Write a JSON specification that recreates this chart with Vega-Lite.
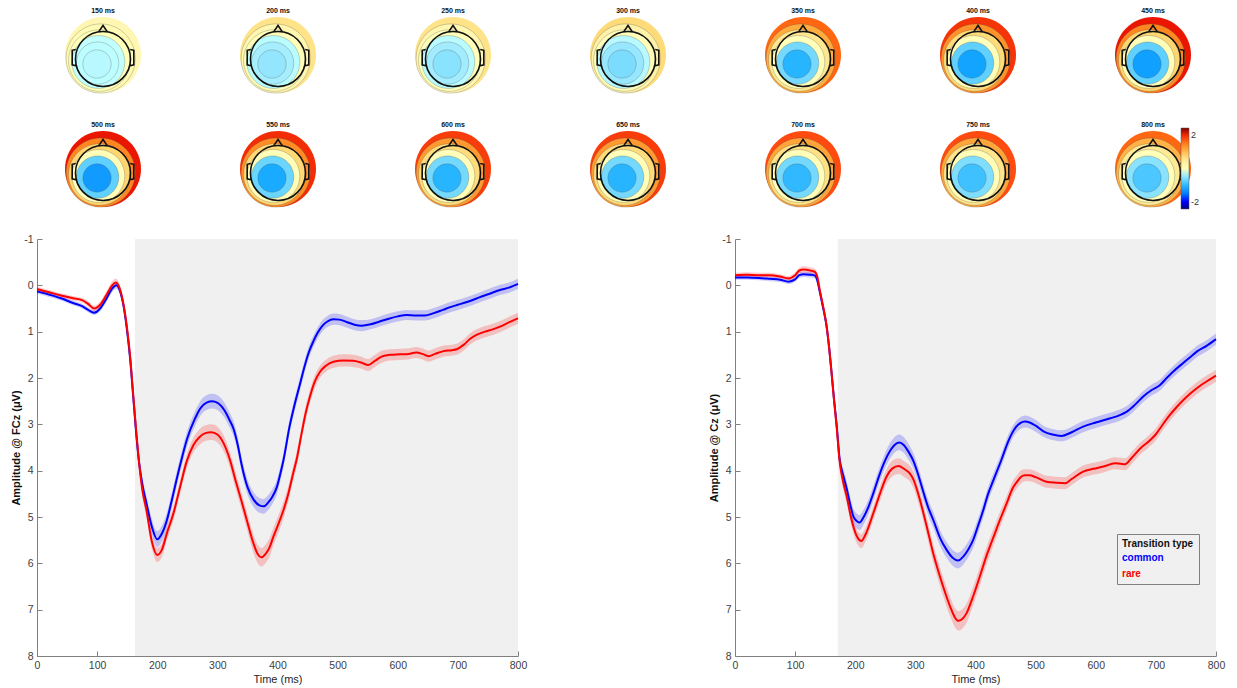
{
"$schema":"https://vega.github.io/schema/vega-lite/v6.json",
"background":"white",
"padding":{"left":10,"top":7,"right":5,"bottom":5},
"config":{"font":"Liberation Sans","view":{"stroke":null},
"axis":{"domainColor":"#808080","tickColor":"#808080","tickSize":-5,"labelFontSize":10.5,"labelColor":"#404040","titleColor":"#262626","titleFontSize":11,"grid":false,"labelPadding":9,"labelFlush":false},
"axisX":{"titleFontWeight":"normal","titlePadding":3},
"axisY":{"titleFontWeight":"bold","titlePadding":2,"titleColor":"#111"},
"header":{"labelFont":"Liberation Sans","labelFontSize":7,"labelFontWeight":"bold","labelColor":"#111","labelPadding":2}},
"datasets":{
"shade":[{"ch":"FCz","start":163,"end":800},{"ch":"Cz","start":171,"end":800}],
"topo":[
{"t":150,"lvl":1,"v":0.3},{"t":150,"lvl":2,"v":0.18},{"t":150,"lvl":3,"v":0.05},{"t":150,"lvl":4,"v":-0.08},{"t":150,"lvl":5,"v":-0.18},{"t":150,"lvl":6,"v":-0.25},
{"t":200,"lvl":1,"v":0.6},{"t":200,"lvl":2,"v":0.35},{"t":200,"lvl":3,"v":0.1},{"t":200,"lvl":4,"v":-0.2},{"t":200,"lvl":5,"v":-0.4},{"t":200,"lvl":6,"v":-0.5},
{"t":250,"lvl":1,"v":0.6},{"t":250,"lvl":2,"v":0.35},{"t":250,"lvl":3,"v":0.08},{"t":250,"lvl":4,"v":-0.22},{"t":250,"lvl":5,"v":-0.42},{"t":250,"lvl":6,"v":-0.55},
{"t":300,"lvl":1,"v":0.7},{"t":300,"lvl":2,"v":0.4},{"t":300,"lvl":3,"v":0.1},{"t":300,"lvl":4,"v":-0.25},{"t":300,"lvl":5,"v":-0.48},{"t":300,"lvl":6,"v":-0.62},
{"t":350,"lvl":1,"v":1.65},{"t":350,"lvl":2,"v":1.15},{"t":350,"lvl":3,"v":0.55},{"t":350,"lvl":4,"v":0.05},{"t":350,"lvl":5,"v":-0.65},{"t":350,"lvl":6,"v":-1.05},
{"t":400,"lvl":1,"v":1.95},{"t":400,"lvl":2,"v":1.35},{"t":400,"lvl":3,"v":0.7},{"t":400,"lvl":4,"v":0.1},{"t":400,"lvl":5,"v":-0.75},{"t":400,"lvl":6,"v":-1.2},
{"t":450,"lvl":1,"v":2.1},{"t":450,"lvl":2,"v":1.45},{"t":450,"lvl":3,"v":0.75},{"t":450,"lvl":4,"v":0.12},{"t":450,"lvl":5,"v":-0.75},{"t":450,"lvl":6,"v":-1.25},
{"t":500,"lvl":1,"v":2.1},{"t":500,"lvl":2,"v":1.45},{"t":500,"lvl":3,"v":0.75},{"t":500,"lvl":4,"v":0.12},{"t":500,"lvl":5,"v":-0.75},{"t":500,"lvl":6,"v":-1.3},
{"t":550,"lvl":1,"v":2.0},{"t":550,"lvl":2,"v":1.4},{"t":550,"lvl":3,"v":0.72},{"t":550,"lvl":4,"v":0.1},{"t":550,"lvl":5,"v":-0.7},{"t":550,"lvl":6,"v":-1.15},
{"t":600,"lvl":1,"v":1.9},{"t":600,"lvl":2,"v":1.3},{"t":600,"lvl":3,"v":0.68},{"t":600,"lvl":4,"v":0.1},{"t":600,"lvl":5,"v":-0.65},{"t":600,"lvl":6,"v":-1.05},
{"t":650,"lvl":1,"v":1.9},{"t":650,"lvl":2,"v":1.3},{"t":650,"lvl":3,"v":0.68},{"t":650,"lvl":4,"v":0.1},{"t":650,"lvl":5,"v":-0.65},{"t":650,"lvl":6,"v":-1.05},
{"t":700,"lvl":1,"v":1.8},{"t":700,"lvl":2,"v":1.22},{"t":700,"lvl":3,"v":0.62},{"t":700,"lvl":4,"v":0.1},{"t":700,"lvl":5,"v":-0.65},{"t":700,"lvl":6,"v":-1.0},
{"t":750,"lvl":1,"v":1.8},{"t":750,"lvl":2,"v":1.2},{"t":750,"lvl":3,"v":0.58},{"t":750,"lvl":4,"v":0.1},{"t":750,"lvl":5,"v":-0.6},{"t":750,"lvl":6,"v":-0.92},
{"t":800,"lvl":1,"v":1.65},{"t":800,"lvl":2,"v":1.1},{"t":800,"lvl":3,"v":0.52},{"t":800,"lvl":4,"v":0.05},{"t":800,"lvl":5,"v":-0.55},{"t":800,"lvl":6,"v":-0.85}],
"erp":[
{"ch":"FCz","type":"common","t":0,"v":0.13,"se":0.05},{"ch":"FCz","type":"common","t":20,"v":0.2,"se":0.05},{"ch":"FCz","type":"common","t":40,"v":0.28,"se":0.05},{"ch":"FCz","type":"common","t":60,"v":0.38,"se":0.05},{"ch":"FCz","type":"common","t":75,"v":0.45,"se":0.05},{"ch":"FCz","type":"common","t":85,"v":0.53,"se":0.05},{"ch":"FCz","type":"common","t":95,"v":0.59,"se":0.05},{"ch":"FCz","type":"common","t":105,"v":0.5,"se":0.06},{"ch":"FCz","type":"common","t":115,"v":0.3,"se":0.07},{"ch":"FCz","type":"common","t":125,"v":0.07,"se":0.08},{"ch":"FCz","type":"common","t":132,"v":0.0,"se":0.08},{"ch":"FCz","type":"common","t":138,"v":0.12,"se":0.08},{"ch":"FCz","type":"common","t":144,"v":0.45,"se":0.08},{"ch":"FCz","type":"common","t":150,"v":1.0,"se":0.09},{"ch":"FCz","type":"common","t":155,"v":1.6,"se":0.1},{"ch":"FCz","type":"common","t":160,"v":2.4,"se":0.11},{"ch":"FCz","type":"common","t":165,"v":3.2,"se":0.12},{"ch":"FCz","type":"common","t":170,"v":3.85,"se":0.13},{"ch":"FCz","type":"common","t":176,"v":4.35,"se":0.14},{"ch":"FCz","type":"common","t":182,"v":4.7,"se":0.15},{"ch":"FCz","type":"common","t":191,"v":5.21,"se":0.16},{"ch":"FCz","type":"common","t":200,"v":5.48,"se":0.17},{"ch":"FCz","type":"common","t":208,"v":5.35,"se":0.17},{"ch":"FCz","type":"common","t":216,"v":5.07,"se":0.16},{"ch":"FCz","type":"common","t":224,"v":4.65,"se":0.16},{"ch":"FCz","type":"common","t":232,"v":4.2,"se":0.16},{"ch":"FCz","type":"common","t":238,"v":3.88,"se":0.16},{"ch":"FCz","type":"common","t":250,"v":3.3,"se":0.16},{"ch":"FCz","type":"common","t":262,"v":2.9,"se":0.16},{"ch":"FCz","type":"common","t":272,"v":2.65,"se":0.16},{"ch":"FCz","type":"common","t":282,"v":2.53,"se":0.16},{"ch":"FCz","type":"common","t":292,"v":2.5,"se":0.16},{"ch":"FCz","type":"common","t":302,"v":2.55,"se":0.16},{"ch":"FCz","type":"common","t":312,"v":2.7,"se":0.16},{"ch":"FCz","type":"common","t":320,"v":2.9,"se":0.16},{"ch":"FCz","type":"common","t":327,"v":3.1,"se":0.16},{"ch":"FCz","type":"common","t":334,"v":3.45,"se":0.16},{"ch":"FCz","type":"common","t":340,"v":3.85,"se":0.16},{"ch":"FCz","type":"common","t":350,"v":4.35,"se":0.16},{"ch":"FCz","type":"common","t":360,"v":4.62,"se":0.16},{"ch":"FCz","type":"common","t":370,"v":4.75,"se":0.16},{"ch":"FCz","type":"common","t":377,"v":4.77,"se":0.16},{"ch":"FCz","type":"common","t":385,"v":4.68,"se":0.16},{"ch":"FCz","type":"common","t":392,"v":4.55,"se":0.16},{"ch":"FCz","type":"common","t":399,"v":4.35,"se":0.16},{"ch":"FCz","type":"common","t":405,"v":4.05,"se":0.15},{"ch":"FCz","type":"common","t":410,"v":3.77,"se":0.15},{"ch":"FCz","type":"common","t":420,"v":3.05,"se":0.15},{"ch":"FCz","type":"common","t":428,"v":2.6,"se":0.14},{"ch":"FCz","type":"common","t":437,"v":2.15,"se":0.14},{"ch":"FCz","type":"common","t":445,"v":1.75,"se":0.13},{"ch":"FCz","type":"common","t":452,"v":1.45,"se":0.13},{"ch":"FCz","type":"common","t":460,"v":1.2,"se":0.12},{"ch":"FCz","type":"common","t":467,"v":1.02,"se":0.12},{"ch":"FCz","type":"common","t":475,"v":0.87,"se":0.12},{"ch":"FCz","type":"common","t":483,"v":0.78,"se":0.12},{"ch":"FCz","type":"common","t":493,"v":0.73,"se":0.12},{"ch":"FCz","type":"common","t":503,"v":0.74,"se":0.12},{"ch":"FCz","type":"common","t":515,"v":0.79,"se":0.12},{"ch":"FCz","type":"common","t":528,"v":0.85,"se":0.12},{"ch":"FCz","type":"common","t":540,"v":0.87,"se":0.12},{"ch":"FCz","type":"common","t":555,"v":0.84,"se":0.11},{"ch":"FCz","type":"common","t":570,"v":0.78,"se":0.11},{"ch":"FCz","type":"common","t":585,"v":0.72,"se":0.11},{"ch":"FCz","type":"common","t":600,"v":0.67,"se":0.11},{"ch":"FCz","type":"common","t":615,"v":0.64,"se":0.11},{"ch":"FCz","type":"common","t":630,"v":0.65,"se":0.11},{"ch":"FCz","type":"common","t":645,"v":0.65,"se":0.11},{"ch":"FCz","type":"common","t":660,"v":0.6,"se":0.11},{"ch":"FCz","type":"common","t":675,"v":0.53,"se":0.11},{"ch":"FCz","type":"common","t":690,"v":0.46,"se":0.11},{"ch":"FCz","type":"common","t":700,"v":0.42,"se":0.11},{"ch":"FCz","type":"common","t":715,"v":0.36,"se":0.11},{"ch":"FCz","type":"common","t":730,"v":0.29,"se":0.11},{"ch":"FCz","type":"common","t":742,"v":0.23,"se":0.11},{"ch":"FCz","type":"common","t":755,"v":0.17,"se":0.11},{"ch":"FCz","type":"common","t":770,"v":0.1,"se":0.11},{"ch":"FCz","type":"common","t":785,"v":0.05,"se":0.11},{"ch":"FCz","type":"common","t":800,"v":-0.03,"se":0.11},
{"ch":"FCz","type":"rare","t":0,"v":0.08,"se":0.05},{"ch":"FCz","type":"rare","t":20,"v":0.15,"se":0.05},{"ch":"FCz","type":"rare","t":40,"v":0.22,"se":0.05},{"ch":"FCz","type":"rare","t":60,"v":0.28,"se":0.05},{"ch":"FCz","type":"rare","t":75,"v":0.32,"se":0.05},{"ch":"FCz","type":"rare","t":85,"v":0.4,"se":0.06},{"ch":"FCz","type":"rare","t":95,"v":0.5,"se":0.06},{"ch":"FCz","type":"rare","t":105,"v":0.42,"se":0.07},{"ch":"FCz","type":"rare","t":115,"v":0.22,"se":0.08},{"ch":"FCz","type":"rare","t":125,"v":0.0,"se":0.09},{"ch":"FCz","type":"rare","t":131,"v":-0.06,"se":0.09},{"ch":"FCz","type":"rare","t":137,"v":0.05,"se":0.09},{"ch":"FCz","type":"rare","t":143,"v":0.35,"se":0.09},{"ch":"FCz","type":"rare","t":150,"v":0.95,"se":0.1},{"ch":"FCz","type":"rare","t":155,"v":1.55,"se":0.1},{"ch":"FCz","type":"rare","t":160,"v":2.35,"se":0.11},{"ch":"FCz","type":"rare","t":165,"v":3.15,"se":0.12},{"ch":"FCz","type":"rare","t":170,"v":3.85,"se":0.13},{"ch":"FCz","type":"rare","t":175,"v":4.4,"se":0.14},{"ch":"FCz","type":"rare","t":182,"v":4.85,"se":0.15},{"ch":"FCz","type":"rare","t":191,"v":5.53,"se":0.15},{"ch":"FCz","type":"rare","t":200,"v":5.82,"se":0.15},{"ch":"FCz","type":"rare","t":208,"v":5.7,"se":0.15},{"ch":"FCz","type":"rare","t":216,"v":5.35,"se":0.15},{"ch":"FCz","type":"rare","t":227,"v":4.92,"se":0.15},{"ch":"FCz","type":"rare","t":238,"v":4.35,"se":0.15},{"ch":"FCz","type":"rare","t":249,"v":3.8,"se":0.15},{"ch":"FCz","type":"rare","t":260,"v":3.45,"se":0.16},{"ch":"FCz","type":"rare","t":270,"v":3.28,"se":0.17},{"ch":"FCz","type":"rare","t":280,"v":3.19,"se":0.17},{"ch":"FCz","type":"rare","t":290,"v":3.17,"se":0.17},{"ch":"FCz","type":"rare","t":300,"v":3.22,"se":0.17},{"ch":"FCz","type":"rare","t":310,"v":3.4,"se":0.17},{"ch":"FCz","type":"rare","t":321,"v":3.77,"se":0.17},{"ch":"FCz","type":"rare","t":330,"v":4.2,"se":0.18},{"ch":"FCz","type":"rare","t":340,"v":4.65,"se":0.18},{"ch":"FCz","type":"rare","t":349,"v":5.07,"se":0.19},{"ch":"FCz","type":"rare","t":360,"v":5.57,"se":0.2},{"ch":"FCz","type":"rare","t":367,"v":5.8,"se":0.2},{"ch":"FCz","type":"rare","t":373,"v":5.87,"se":0.2},{"ch":"FCz","type":"rare","t":380,"v":5.8,"se":0.2},{"ch":"FCz","type":"rare","t":387,"v":5.65,"se":0.2},{"ch":"FCz","type":"rare","t":393,"v":5.43,"se":0.19},{"ch":"FCz","type":"rare","t":400,"v":5.2,"se":0.19},{"ch":"FCz","type":"rare","t":410,"v":4.85,"se":0.18},{"ch":"FCz","type":"rare","t":418,"v":4.5,"se":0.17},{"ch":"FCz","type":"rare","t":426,"v":4.06,"se":0.16},{"ch":"FCz","type":"rare","t":432,"v":3.75,"se":0.16},{"ch":"FCz","type":"rare","t":440,"v":3.2,"se":0.15},{"ch":"FCz","type":"rare","t":447,"v":2.75,"se":0.15},{"ch":"FCz","type":"rare","t":454,"v":2.4,"se":0.14},{"ch":"FCz","type":"rare","t":462,"v":2.08,"se":0.14},{"ch":"FCz","type":"rare","t":471,"v":1.86,"se":0.13},{"ch":"FCz","type":"rare","t":480,"v":1.74,"se":0.13},{"ch":"FCz","type":"rare","t":493,"v":1.65,"se":0.13},{"ch":"FCz","type":"rare","t":510,"v":1.62,"se":0.13},{"ch":"FCz","type":"rare","t":526,"v":1.63,"se":0.13},{"ch":"FCz","type":"rare","t":540,"v":1.67,"se":0.13},{"ch":"FCz","type":"rare","t":551,"v":1.72,"se":0.13},{"ch":"FCz","type":"rare","t":562,"v":1.63,"se":0.13},{"ch":"FCz","type":"rare","t":573,"v":1.54,"se":0.13},{"ch":"FCz","type":"rare","t":588,"v":1.5,"se":0.12},{"ch":"FCz","type":"rare","t":604,"v":1.49,"se":0.12},{"ch":"FCz","type":"rare","t":618,"v":1.48,"se":0.12},{"ch":"FCz","type":"rare","t":631,"v":1.45,"se":0.12},{"ch":"FCz","type":"rare","t":641,"v":1.48,"se":0.12},{"ch":"FCz","type":"rare","t":651,"v":1.53,"se":0.12},{"ch":"FCz","type":"rare","t":662,"v":1.48,"se":0.12},{"ch":"FCz","type":"rare","t":676,"v":1.42,"se":0.12},{"ch":"FCz","type":"rare","t":690,"v":1.4,"se":0.12},{"ch":"FCz","type":"rare","t":698,"v":1.38,"se":0.12},{"ch":"FCz","type":"rare","t":710,"v":1.28,"se":0.12},{"ch":"FCz","type":"rare","t":720,"v":1.16,"se":0.12},{"ch":"FCz","type":"rare","t":731,"v":1.07,"se":0.12},{"ch":"FCz","type":"rare","t":745,"v":1.0,"se":0.12},{"ch":"FCz","type":"rare","t":758,"v":0.95,"se":0.12},{"ch":"FCz","type":"rare","t":770,"v":0.89,"se":0.12},{"ch":"FCz","type":"rare","t":785,"v":0.8,"se":0.12},{"ch":"FCz","type":"rare","t":800,"v":0.71,"se":0.12},
{"ch":"Cz","type":"common","t":0,"v":-0.17,"se":0.05},{"ch":"Cz","type":"common","t":20,"v":-0.17,"se":0.05},{"ch":"Cz","type":"common","t":40,"v":-0.16,"se":0.05},{"ch":"Cz","type":"common","t":58,"v":-0.14,"se":0.05},{"ch":"Cz","type":"common","t":75,"v":-0.12,"se":0.05},{"ch":"Cz","type":"common","t":89,"v":-0.08,"se":0.05},{"ch":"Cz","type":"common","t":100,"v":-0.13,"se":0.05},{"ch":"Cz","type":"common","t":107,"v":-0.22,"se":0.06},{"ch":"Cz","type":"common","t":114,"v":-0.24,"se":0.06},{"ch":"Cz","type":"common","t":125,"v":-0.23,"se":0.06},{"ch":"Cz","type":"common","t":133,"v":-0.21,"se":0.06},{"ch":"Cz","type":"common","t":137,"v":-0.1,"se":0.07},{"ch":"Cz","type":"common","t":141,"v":0.14,"se":0.07},{"ch":"Cz","type":"common","t":146,"v":0.45,"se":0.08},{"ch":"Cz","type":"common","t":152,"v":0.86,"se":0.08},{"ch":"Cz","type":"common","t":157,"v":1.4,"se":0.09},{"ch":"Cz","type":"common","t":161,"v":1.94,"se":0.1},{"ch":"Cz","type":"common","t":165,"v":2.5,"se":0.11},{"ch":"Cz","type":"common","t":169,"v":3.0,"se":0.12},{"ch":"Cz","type":"common","t":174,"v":3.75,"se":0.13},{"ch":"Cz","type":"common","t":180,"v":4.1,"se":0.14},{"ch":"Cz","type":"common","t":186,"v":4.4,"se":0.15},{"ch":"Cz","type":"common","t":192,"v":4.75,"se":0.16},{"ch":"Cz","type":"common","t":197,"v":4.99,"se":0.16},{"ch":"Cz","type":"common","t":202,"v":5.08,"se":0.16},{"ch":"Cz","type":"common","t":207,"v":5.12,"se":0.16},{"ch":"Cz","type":"common","t":214,"v":5.0,"se":0.16},{"ch":"Cz","type":"common","t":222,"v":4.78,"se":0.16},{"ch":"Cz","type":"common","t":230,"v":4.49,"se":0.16},{"ch":"Cz","type":"common","t":240,"v":4.1,"se":0.16},{"ch":"Cz","type":"common","t":249,"v":3.8,"se":0.16},{"ch":"Cz","type":"common","t":258,"v":3.57,"se":0.17},{"ch":"Cz","type":"common","t":265,"v":3.45,"se":0.17},{"ch":"Cz","type":"common","t":273,"v":3.39,"se":0.17},{"ch":"Cz","type":"common","t":281,"v":3.45,"se":0.17},{"ch":"Cz","type":"common","t":289,"v":3.6,"se":0.17},{"ch":"Cz","type":"common","t":297,"v":3.8,"se":0.17},{"ch":"Cz","type":"common","t":305,"v":4.1,"se":0.17},{"ch":"Cz","type":"common","t":313,"v":4.45,"se":0.17},{"ch":"Cz","type":"common","t":321,"v":4.78,"se":0.17},{"ch":"Cz","type":"common","t":330,"v":5.07,"se":0.17},{"ch":"Cz","type":"common","t":341,"v":5.45,"se":0.17},{"ch":"Cz","type":"common","t":352,"v":5.71,"se":0.17},{"ch":"Cz","type":"common","t":362,"v":5.88,"se":0.17},{"ch":"Cz","type":"common","t":371,"v":5.94,"se":0.17},{"ch":"Cz","type":"common","t":380,"v":5.85,"se":0.17},{"ch":"Cz","type":"common","t":388,"v":5.7,"se":0.17},{"ch":"Cz","type":"common","t":396,"v":5.5,"se":0.17},{"ch":"Cz","type":"common","t":404,"v":5.2,"se":0.16},{"ch":"Cz","type":"common","t":413,"v":4.85,"se":0.16},{"ch":"Cz","type":"common","t":421,"v":4.5,"se":0.15},{"ch":"Cz","type":"common","t":430,"v":4.2,"se":0.15},{"ch":"Cz","type":"common","t":443,"v":3.77,"se":0.14},{"ch":"Cz","type":"common","t":455,"v":3.35,"se":0.14},{"ch":"Cz","type":"common","t":465,"v":3.1,"se":0.13},{"ch":"Cz","type":"common","t":475,"v":2.97,"se":0.13},{"ch":"Cz","type":"common","t":482,"v":2.94,"se":0.13},{"ch":"Cz","type":"common","t":490,"v":2.96,"se":0.13},{"ch":"Cz","type":"common","t":500,"v":3.03,"se":0.13},{"ch":"Cz","type":"common","t":513,"v":3.15,"se":0.12},{"ch":"Cz","type":"common","t":528,"v":3.22,"se":0.12},{"ch":"Cz","type":"common","t":543,"v":3.25,"se":0.12},{"ch":"Cz","type":"common","t":560,"v":3.17,"se":0.12},{"ch":"Cz","type":"common","t":579,"v":3.05,"se":0.12},{"ch":"Cz","type":"common","t":600,"v":2.96,"se":0.12},{"ch":"Cz","type":"common","t":624,"v":2.87,"se":0.12},{"ch":"Cz","type":"common","t":640,"v":2.8,"se":0.12},{"ch":"Cz","type":"common","t":651,"v":2.73,"se":0.12},{"ch":"Cz","type":"common","t":665,"v":2.58,"se":0.12},{"ch":"Cz","type":"common","t":679,"v":2.4,"se":0.12},{"ch":"Cz","type":"common","t":693,"v":2.26,"se":0.12},{"ch":"Cz","type":"common","t":707,"v":2.15,"se":0.12},{"ch":"Cz","type":"common","t":718,"v":2.0,"se":0.12},{"ch":"Cz","type":"common","t":729,"v":1.86,"se":0.12},{"ch":"Cz","type":"common","t":745,"v":1.68,"se":0.12},{"ch":"Cz","type":"common","t":757,"v":1.55,"se":0.12},{"ch":"Cz","type":"common","t":768,"v":1.43,"se":0.12},{"ch":"Cz","type":"common","t":785,"v":1.3,"se":0.12},{"ch":"Cz","type":"common","t":800,"v":1.16,"se":0.12},
{"ch":"Cz","type":"rare","t":0,"v":-0.22,"se":0.05},{"ch":"Cz","type":"rare","t":20,"v":-0.23,"se":0.05},{"ch":"Cz","type":"rare","t":40,"v":-0.22,"se":0.05},{"ch":"Cz","type":"rare","t":58,"v":-0.22,"se":0.05},{"ch":"Cz","type":"rare","t":75,"v":-0.19,"se":0.05},{"ch":"Cz","type":"rare","t":89,"v":-0.15,"se":0.05},{"ch":"Cz","type":"rare","t":100,"v":-0.22,"se":0.06},{"ch":"Cz","type":"rare","t":107,"v":-0.32,"se":0.06},{"ch":"Cz","type":"rare","t":114,"v":-0.34,"se":0.07},{"ch":"Cz","type":"rare","t":125,"v":-0.32,"se":0.07},{"ch":"Cz","type":"rare","t":133,"v":-0.29,"se":0.07},{"ch":"Cz","type":"rare","t":137,"v":-0.18,"se":0.07},{"ch":"Cz","type":"rare","t":141,"v":0.1,"se":0.08},{"ch":"Cz","type":"rare","t":146,"v":0.42,"se":0.08},{"ch":"Cz","type":"rare","t":152,"v":0.84,"se":0.09},{"ch":"Cz","type":"rare","t":157,"v":1.4,"se":0.1},{"ch":"Cz","type":"rare","t":161,"v":1.95,"se":0.1},{"ch":"Cz","type":"rare","t":165,"v":2.52,"se":0.11},{"ch":"Cz","type":"rare","t":169,"v":3.05,"se":0.12},{"ch":"Cz","type":"rare","t":174,"v":3.8,"se":0.13},{"ch":"Cz","type":"rare","t":180,"v":4.25,"se":0.14},{"ch":"Cz","type":"rare","t":186,"v":4.57,"se":0.15},{"ch":"Cz","type":"rare","t":192,"v":4.95,"se":0.15},{"ch":"Cz","type":"rare","t":197,"v":5.21,"se":0.15},{"ch":"Cz","type":"rare","t":204,"v":5.45,"se":0.15},{"ch":"Cz","type":"rare","t":210,"v":5.52,"se":0.15},{"ch":"Cz","type":"rare","t":218,"v":5.35,"se":0.15},{"ch":"Cz","type":"rare","t":230,"v":4.92,"se":0.15},{"ch":"Cz","type":"rare","t":241,"v":4.5,"se":0.16},{"ch":"Cz","type":"rare","t":252,"v":4.13,"se":0.16},{"ch":"Cz","type":"rare","t":262,"v":3.95,"se":0.17},{"ch":"Cz","type":"rare","t":272,"v":3.9,"se":0.17},{"ch":"Cz","type":"rare","t":282,"v":3.97,"se":0.17},{"ch":"Cz","type":"rare","t":290,"v":4.05,"se":0.17},{"ch":"Cz","type":"rare","t":297,"v":4.2,"se":0.18},{"ch":"Cz","type":"rare","t":308,"v":4.65,"se":0.18},{"ch":"Cz","type":"rare","t":319,"v":5.21,"se":0.19},{"ch":"Cz","type":"rare","t":330,"v":5.8,"se":0.2},{"ch":"Cz","type":"rare","t":341,"v":6.29,"se":0.2},{"ch":"Cz","type":"rare","t":350,"v":6.65,"se":0.21},{"ch":"Cz","type":"rare","t":358,"v":6.94,"se":0.21},{"ch":"Cz","type":"rare","t":365,"v":7.15,"se":0.21},{"ch":"Cz","type":"rare","t":371,"v":7.24,"se":0.21},{"ch":"Cz","type":"rare","t":378,"v":7.2,"se":0.21},{"ch":"Cz","type":"rare","t":385,"v":7.08,"se":0.21},{"ch":"Cz","type":"rare","t":395,"v":6.75,"se":0.2},{"ch":"Cz","type":"rare","t":407,"v":6.29,"se":0.2},{"ch":"Cz","type":"rare","t":418,"v":5.85,"se":0.19},{"ch":"Cz","type":"rare","t":430,"v":5.43,"se":0.18},{"ch":"Cz","type":"rare","t":441,"v":5.05,"se":0.17},{"ch":"Cz","type":"rare","t":452,"v":4.7,"se":0.16},{"ch":"Cz","type":"rare","t":461,"v":4.4,"se":0.15},{"ch":"Cz","type":"rare","t":469,"v":4.24,"se":0.14},{"ch":"Cz","type":"rare","t":476,"v":4.13,"se":0.14},{"ch":"Cz","type":"rare","t":482,"v":4.1,"se":0.13},{"ch":"Cz","type":"rare","t":490,"v":4.1,"se":0.13},{"ch":"Cz","type":"rare","t":500,"v":4.14,"se":0.13},{"ch":"Cz","type":"rare","t":518,"v":4.24,"se":0.13},{"ch":"Cz","type":"rare","t":534,"v":4.26,"se":0.13},{"ch":"Cz","type":"rare","t":549,"v":4.27,"se":0.13},{"ch":"Cz","type":"rare","t":560,"v":4.18,"se":0.13},{"ch":"Cz","type":"rare","t":579,"v":4.02,"se":0.13},{"ch":"Cz","type":"rare","t":596,"v":3.96,"se":0.13},{"ch":"Cz","type":"rare","t":613,"v":3.91,"se":0.13},{"ch":"Cz","type":"rare","t":632,"v":3.84,"se":0.13},{"ch":"Cz","type":"rare","t":641,"v":3.85,"se":0.13},{"ch":"Cz","type":"rare","t":649,"v":3.86,"se":0.13},{"ch":"Cz","type":"rare","t":660,"v":3.72,"se":0.13},{"ch":"Cz","type":"rare","t":674,"v":3.52,"se":0.13},{"ch":"Cz","type":"rare","t":687,"v":3.38,"se":0.13},{"ch":"Cz","type":"rare","t":699,"v":3.23,"se":0.13},{"ch":"Cz","type":"rare","t":710,"v":3.03,"se":0.13},{"ch":"Cz","type":"rare","t":722,"v":2.82,"se":0.13},{"ch":"Cz","type":"rare","t":735,"v":2.62,"se":0.13},{"ch":"Cz","type":"rare","t":750,"v":2.42,"se":0.13},{"ch":"Cz","type":"rare","t":768,"v":2.22,"se":0.13},{"ch":"Cz","type":"rare","t":785,"v":2.07,"se":0.13},{"ch":"Cz","type":"rare","t":800,"v":1.95,"se":0.13}]
},
"vconcat":[
{
"data":{"name":"topo"},
"facet":{"field":"t","type":"ordinal","header":{"labelExpr":"datum.value + ' ms'","title":null}},
"columns":7,
"spacing":{"column":43,"row":26},
"spec":{
"width":132,"height":78,
"layer":[
{"mark":{"type":"point","shape":"M0,-1A1,1 0 1,1 0,1A1,1 0 1,1 0,-1Z","filled":true,"opacity":1,"stroke":"#505050","strokeWidth":0.5},
"encoding":{
"x":{"field":"lvl","type":"quantitative","scale":{"type":"log","domain":[1,6],"range":[66,60]},"axis":null},
"y":{"field":"lvl","type":"quantitative","scale":{"type":"log","domain":[1,6],"range":[39,48]},"axis":null},
"size":{"field":"lvl","type":"quantitative","scale":{"domain":[1,6],"range":[5776,800],"zero":false},"legend":null},
"color":{"field":"v","type":"quantitative","scale":{"type":"linear","domain":[-2.45,-2.0,-1.4,-0.8,-0.35,0,0.35,0.8,1.3,1.8,2.15,2.45],"range":["#00007f","#0000ff","#1e90ff","#55ccff","#b0f2ff","#ffffff","#fff6b0","#ffd26a","#ff9a30","#ff4a10","#e80000","#7f0000"]},
"legend":{"type":"gradient","orient":"none","legendX":1144,"legendY":112,"direction":"vertical","gradientLength":81,"gradientThickness":8,"values":[-2,2],"title":null,"labelFontSize":9,"labelColor":"#333","labelExpr":"'' + datum.value","gradientStrokeColor":"#555","gradientStrokeWidth":0.5}},
"strokeOpacity":{"condition":{"test":"datum.lvl > 1","value":0.55},"value":0},
"order":{"field":"lvl","type":"quantitative"}}},
{"transform":[{"filter":"datum.lvl === 1"}],
"mark":{"type":"point","shape":"M0,-0.855A1,1 0 1,1 0,1.145A1,1 0 1,1 0,-0.855Z M-0.16,-0.84L0,-1.075L0.16,-0.84 M-0.99,-0.2L-1.12,-0.17L-1.12,0.36L-0.99,0.39 M0.99,-0.2L1.12,-0.17L1.12,0.36L0.99,0.39","filled":false,"color":"#111","strokeWidth":1.6,"size":3025,"opacity":1},
"encoding":{}}
]}
},
{
"hconcat":[
{"width":481,"height":417,
"layer":[
{"data":{"name":"shade"},"transform":[{"filter":"datum.ch === 'FCz'"}],"mark":{"type":"rect","color":"#f0f0f0"},
"encoding":{"x":{"field":"start","type":"quantitative","title":"Time (ms)","scale":{"domain":[0,800],"nice":false},"axis":{"values":[0,100,200,300,400,500,600,700,800]}},"x2":{"field":"end"}}},
{"data":{"name":"erp"},"transform":[{"filter":"datum.ch === 'FCz'"}],"mark":{"type":"errorband","interpolate":"monotone","opacity":0.2},
"encoding":{"x":{"field":"t","type":"quantitative","title":"Time (ms)","scale":{"domain":[0,800],"nice":false}},
"y":{"field":"v","type":"quantitative","title":"Amplitude @ FCz (μV)","scale":{"domain":[-1,8],"reverse":true,"nice":false,"zero":false}},
"yError":{"field":"se"},
"color":{"field":"type","type":"nominal","scale":{"domain":["common","rare"],"range":["#0000ff","#ff0000"]},"legend":null}}},
{"data":{"name":"erp"},"transform":[{"filter":"datum.ch === 'FCz'"}],"mark":{"type":"line","interpolate":"monotone","strokeWidth":2},
"encoding":{"x":{"field":"t","type":"quantitative","title":"Time (ms)","scale":{"domain":[0,800],"nice":false}},
"y":{"field":"v","type":"quantitative","title":"Amplitude @ FCz (μV)","scale":{"domain":[-1,8],"reverse":true,"nice":false,"zero":false},"axis":{"values":[-1,0,1,2,3,4,5,6,7,8],"labelExpr":"'' + datum.value"}},
"color":{"field":"type","type":"nominal","scale":{"domain":["common","rare"],"range":["#0000ff","#ff0000"]},"legend":null}}}
]},
{"width":481,"height":417,
"layer":[
{"data":{"name":"shade"},"transform":[{"filter":"datum.ch === 'Cz'"}],"mark":{"type":"rect","color":"#f0f0f0"},
"encoding":{"x":{"field":"start","type":"quantitative","title":"Time (ms)","scale":{"domain":[0,800],"nice":false},"axis":{"values":[0,100,200,300,400,500,600,700,800]}},"x2":{"field":"end"}}},
{"data":{"name":"erp"},"transform":[{"filter":"datum.ch === 'Cz'"}],"mark":{"type":"errorband","interpolate":"monotone","opacity":0.2},
"encoding":{"x":{"field":"t","type":"quantitative","title":"Time (ms)","scale":{"domain":[0,800],"nice":false}},
"y":{"field":"v","type":"quantitative","title":"Amplitude @ Cz (μV)","scale":{"domain":[-1,8],"reverse":true,"nice":false,"zero":false}},
"yError":{"field":"se"},
"color":{"field":"type","type":"nominal","scale":{"domain":["common","rare"],"range":["#0000ff","#ff0000"]},"legend":{"title":"Transition type","orient":"none","legendX":382,"legendY":295,"direction":"vertical","symbolSize":0,"symbolOpacity":0,"symbolStrokeWidth":0,"labelOffset":-10,"titleFontSize":10,"titleFontWeight":"bold","titleColor":"#111","labelFontSize":10,"labelFontWeight":"bold","rowPadding":6,"titlePadding":4,"padding":5,"fillColor":"#f0f0f0","strokeColor":"#808080","encode":{"labels":{"update":{"fill":{"signal":"datum.value === 'common' ? '#0000ff' : '#ff0000'"}}}}}}}},
{"data":{"name":"erp"},"transform":[{"filter":"datum.ch === 'Cz'"}],"mark":{"type":"line","interpolate":"monotone","strokeWidth":2},
"encoding":{"x":{"field":"t","type":"quantitative","title":"Time (ms)","scale":{"domain":[0,800],"nice":false}},
"y":{"field":"v","type":"quantitative","title":"Amplitude @ Cz (μV)","scale":{"domain":[-1,8],"reverse":true,"nice":false,"zero":false},"axis":{"values":[-1,0,1,2,3,4,5,6,7,8],"labelExpr":"'' + datum.value"}},
"color":{"field":"type","type":"nominal","scale":{"domain":["common","rare"],"range":["#0000ff","#ff0000"]},"legend":{"title":"Transition type","orient":"none","legendX":382,"legendY":295,"direction":"vertical","symbolSize":0,"symbolOpacity":0,"symbolStrokeWidth":0,"labelOffset":-10,"titleFontSize":10,"titleFontWeight":"bold","titleColor":"#111","labelFontSize":10,"labelFontWeight":"bold","rowPadding":6,"titlePadding":4,"padding":5,"fillColor":"#f0f0f0","strokeColor":"#808080","encode":{"labels":{"update":{"fill":{"signal":"datum.value === 'common' ? '#0000ff' : '#ff0000'"}}}}}}}}
]}
],
"spacing":217,
"bounds":"flush",
"resolve":{"legend":{"color":"independent"}}
}
],
"spacing":24,
"resolve":{"scale":{"color":"independent","size":"independent"},"legend":{"color":"independent"}}
}
